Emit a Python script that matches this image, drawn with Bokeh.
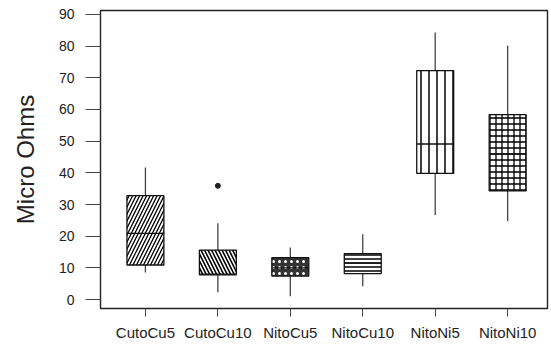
from bokeh.plotting import figure
from bokeh.models import FixedTicker
from bokeh.embed import file_html
from bokeh.resources import INLINE

categories = ["CutoCu5", "CutoCu10", "NitoCu5", "NitoCu10", "NitoNi5", "NitoNi10"]
q1 = [10.9, 7.8, 7.4, 8.2, 39.8, 34.3]
median = [20.9, 8.0, 10.0, 11.5, 49.1, 46.0]
q3 = [32.8, 15.6, 13.2, 14.5, 72.3, 58.4]
whisk_lo = [8.5, 2.3, 1.0, 4.2, 26.7, 24.8]
whisk_hi = [41.7, 24.1, 16.4, 20.6, 84.3, 80.1]
outlier_cat = ["CutoCu10"]
outlier_val = [35.9]
y_ticks = [0, 10, 20, 30, 40, 50, 60, 70, 80, 90]

hatches = ["/", "\\", "dot", "-", "|", "+"]
hatch_scales = [7, 7, 6, 4, 8, 6]
hatch_weights = [1.3, 1.6, 3.5, 1.5, 1.5, 1.3]
hatch_colors = ["black", "black", "white", "black", "black", "black"]
fill_colors = ["white", "white", "#333333", "white", "white", "white"]

xpos = list(range(len(categories)))

p = figure(width=549, height=344, output_backend="svg", toolbar_location=None,
           x_range=(-0.62, 5.55), y_range=(-2.84, 91.26),
           min_border_left=100, min_border_right=2, min_border_top=10, min_border_bottom=36)

p.xgrid.visible = False
p.ygrid.visible = False
p.outline_line_color = "#222222"
p.outline_line_width = 1.4
p.background_fill_color = "white"
p.border_fill_color = "white"

# whiskers
p.segment(x0=xpos, y0=whisk_lo, x1=xpos, y1=q1, line_color="#444444", line_width=1.3)
p.segment(x0=xpos, y0=q3, x1=xpos, y1=whisk_hi, line_color="#444444", line_width=1.3)

for i in range(len(categories)):
    p.vbar(x=[xpos[i]], bottom=[q1[i]], top=[q3[i]], width=0.51,
           fill_color=fill_colors[i], line_color="#111111", line_width=1.3,
           hatch_pattern=hatches[i], hatch_scale=hatch_scales[i],
           hatch_weight=hatch_weights[i], hatch_color=hatch_colors[i])

p.segment(x0=[x - 0.255 for x in xpos], y0=median, x1=[x + 0.255 for x in xpos], y1=median,
          line_color="#111111", line_width=1.3)

ox = [categories.index(c) for c in outlier_cat]
p.scatter(x=ox, y=outlier_val, size=5, color="#222222")

# axes
p.xaxis.ticker = FixedTicker(ticks=xpos)
p.xaxis.major_label_overrides = {i: c for i, c in enumerate(categories)}
p.xaxis.major_tick_in = 0
p.xaxis.major_tick_out = 8
p.xaxis.minor_tick_line_color = None
p.xaxis.axis_line_color = "#222222"
p.xaxis.major_tick_line_color = "#444444"
p.xaxis.major_label_text_font = "Liberation Sans"
p.xaxis.major_label_text_font_size = "15px"
p.xaxis.major_label_text_color = "#222222"
p.xaxis.major_label_standoff = 7

p.yaxis.ticker = FixedTicker(ticks=y_ticks)
p.yaxis.major_tick_in = 0
p.yaxis.major_tick_out = 15
p.yaxis.minor_tick_line_color = None
p.yaxis.axis_line_color = "#222222"
p.yaxis.major_tick_line_color = "#444444"
p.yaxis.major_label_text_font = "Liberation Sans"
p.yaxis.major_label_text_font_size = "14px"
p.yaxis.major_label_text_color = "#222222"
p.yaxis.major_label_standoff = 11
p.yaxis.axis_label = "Micro Ohms"
p.yaxis.axis_label_text_font = "Liberation Sans"
p.yaxis.axis_label_text_font_style = "normal"
p.yaxis.axis_label_text_font_size = "24px"
p.yaxis.axis_label_text_color = "#222222"
p.yaxis.axis_label_standoff = 17

open("out.html", "w").write(file_html(p, INLINE))
